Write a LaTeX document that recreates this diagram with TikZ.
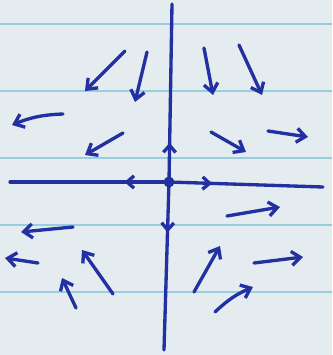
\documentclass[tikz,border=0pt]{standalone}
\usepackage{tikz}
\usetikzlibrary{arrows.meta,decorations.markings}
\definecolor{ink}{RGB}{34,48,162}
\definecolor{paper}{RGB}{228,236,240}
\definecolor{ruling}{RGB}{150,206,224}
\tikzset{
	flow/.style={ink, line width=1.9pt, line cap=round, -{Straight Barb[length=5pt,width=8pt]}},
	axisline/.style={ink, line width=1.9pt, line cap=round, postaction={decorate}},
	midtip/.style={decoration={markings, mark=at position #1 with {\arrow{Straight Barb[length=4pt,width=7pt]}}}}
}

\begin{document}
\begin{tikzpicture}[x=0.02cm,y=-0.02cm]
	  \fill[paper] (0,0) rectangle (332,355);
	  \useasboundingbox (0,0) rectangle (332,355);
	  \foreach \y in {24,91,158,225,292} {
	    \draw[ruling, line width=0.6pt] (0,\y) -- (332,\y);
	  }
	  \coordinate (top) at (172,4);
	  \coordinate (bottom) at (164,350);
	  \coordinate (left) at (10,182);
	  \coordinate (right) at (323,187);
	  \node[circle, fill=ink, inner sep=0pt, minimum size=6.2pt] (o) at (169,182) {};
	  \draw[axisline, midtip=0.28] (o.center) -- (left);
	  \draw[axisline, midtip=0.28] (o.center) -- (right);
	  \draw[axisline, midtip=0.22] (o.center) -- (top);
	  \draw[axisline, midtip=0.30] (o.center) -- (bottom);
	  \foreach \xa/\ya/\xb/\yb/\b in {
	    125/51/85/91/0, 147/52/135/102/0, 204/48/213/95/0, 239/45/262/95/0,
	    63/114/12/125/-10, 123/133/85/155/0, 211/132/246/152/0, 268/131/308/137/0,
	    227/216/280/207/0, 73/227/21/232/0, 38/263/5/258/0, 113/294/82/250/0,
	    76/308/62/278/0, 194/292/220/246/0, 254/263/303/257/0, 215/312/253/287/10} {
	    \draw[flow] (\xa,\ya) to[bend left=\b] (\xb,\yb);
	  }
	\end{tikzpicture}
\end{document}
